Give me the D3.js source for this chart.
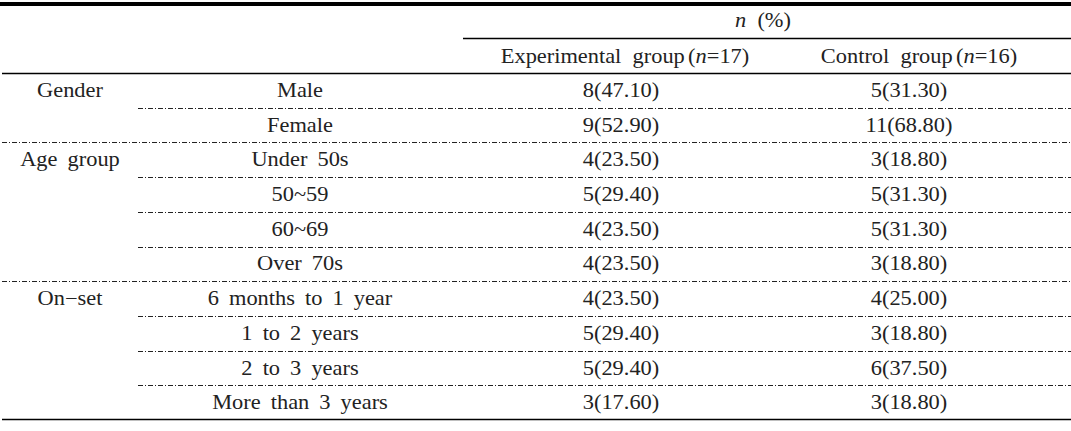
<!DOCTYPE html>
<html><head><meta charset="utf-8">
<script src="https://cdn.jsdelivr.net/npm/d3@7"></script>
<style>
html,body{margin:0;padding:0;background:#fff;}
text{font-family:"Liberation Serif","Times New Roman",serif;font-size:20px;fill:#222;word-spacing:4px;}
text.hdr{word-spacing:5px;}
</style></head><body>
<svg id="chart" width="1071" height="431"></svg>
<script>
const groups = ["Gender","Age group","On\u2212set"];
const groupSizes = [2,4,4];
const subcategories = ["Male","Female","Under 50s","50~59","60~69","Over 70s","6 months to 1 year","1 to 2 years","2 to 3 years","More than 3 years"];
const expN = [8,9,4,5,4,4,4,5,5,3];
const expPct = ["47.10","52.90","23.50","29.40","23.50","23.50","23.50","29.40","29.40","17.60"];
const ctlN = [5,11,3,5,5,3,4,3,6,3];
const ctlPct = ["31.30","68.80","18.80","31.30","31.30","18.80","25.00","18.80","37.50","18.80"];
const headerTop = ["n"," (%)"];
const colHeaders = [["Experimental group","(","n","=17)"],["Control group","(","n","=16)"]];

const W = 1071;
const svg = d3.select("#chart");
const sx = 1.12;

const colEdges = [0,138,463,775,W];
const colCenter = [70,300,621,915];

const rowY = d3.scaleBand().domain(d3.range(subcategories.length)).range([73,420]);

function txt(x,y,s){
  return svg.append("text").attr("transform",`translate(${x},${y}) scale(${sx},1)`)
    .attr("text-anchor","middle").attr("dominant-baseline","central").text(s);
}

svg.append("rect").attr("x",0).attr("y",2).attr("width",W).attr("height",4).attr("fill","#000");
svg.append("line").attr("x1",colEdges[2]).attr("x2",W).attr("y1",38.5).attr("y2",38.5).attr("stroke","#000").attr("stroke-width",1.3);
svg.append("line").attr("x1",2).attr("x2",W).attr("y1",73.5).attr("y2",73.5).attr("stroke","#000").attr("stroke-width",1.3);

const t0 = svg.append("text").attr("class","hdr").attr("transform",`translate(${(colEdges[2]+W)/2 - 4},20) scale(${sx},1)`)
  .attr("text-anchor","middle").attr("dominant-baseline","central");
t0.append("tspan").attr("font-style","italic").text(headerTop[0]);
t0.append("tspan").text(headerTop[1]);
colHeaders.forEach((h,i)=>{
  const t = svg.append("text").attr("class","hdr").attr("transform",`translate(${colCenter[i+2]+4},56) scale(${sx},1)`)
    .attr("text-anchor","middle").attr("dominant-baseline","central");
  t.append("tspan").text(h[0]);
  t.append("tspan").attr("dx",3).text(h[1]);
  t.append("tspan").attr("font-style","italic").text(h[2]);
  t.append("tspan").text(h[3]);
});

const groupStart = [];
let acc = 0;
groupSizes.forEach(s=>{groupStart.push(acc); acc+=s;});

subcategories.forEach((s,i)=>{
  const yc = rowY(i)+rowY.bandwidth()/2;
  txt(colCenter[1],yc,s);
  txt(colCenter[2],yc,`${expN[i]}(${expPct[i]})`);
  txt(colCenter[3]-6,yc,`${ctlN[i]}(${ctlPct[i]})`);
});
groups.forEach((g,gi)=>{
  const i = groupStart[gi];
  const yc = rowY(i)+rowY.bandwidth()/2;
  txt(colCenter[0],yc,g);
});

subcategories.forEach((s,i)=>{
  if(i===subcategories.length-1) return;
  const y = Math.round(rowY(i)+rowY.bandwidth())+0.5;
  const isGroupEnd = groupStart.includes(i+1);
  svg.append("line").attr("x1",isGroupEnd?2:colEdges[1]).attr("x2",W)
    .attr("y1",y).attr("y2",y).attr("stroke","#222").attr("stroke-width",1)
    .attr("stroke-dasharray","5,2,1,2");
});
svg.append("line").attr("x1",2).attr("x2",W).attr("y1",419.5).attr("y2",419.5).attr("stroke","#000").attr("stroke-width",1.3);
</script>
</body></html>
